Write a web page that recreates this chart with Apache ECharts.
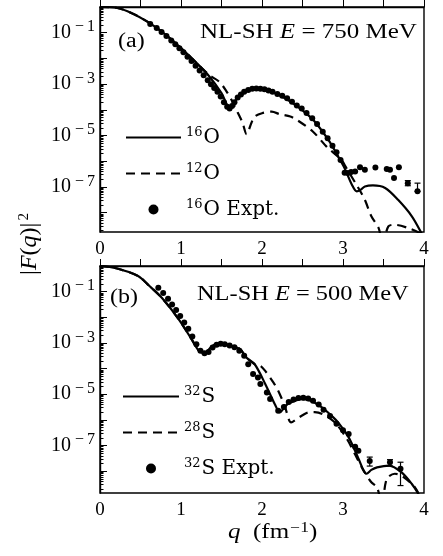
<!doctype html>
<html>
<head>
<meta charset="utf-8">
<title>Form factor</title>
<script src="https://cdn.jsdelivr.net/npm/echarts@6/dist/echarts.min.js"></script>
<style>
  html, body { margin: 0; padding: 0; background: #fff; }
  #main { width: 443px; height: 556px; }
</style>
</head>
<body>
<div id="main"></div>
<script>
// all curve values are log10 |F(q)|^2
// panel (a): 16O / 12O, E = 750 MeV
var qA16 = [0, 0.2, 0.4, 0.6, 0.8, 1.0, 1.2, 1.35, 1.5, 1.56, 1.6, 1.65, 1.72, 1.8, 1.9, 2.0, 2.16, 2.3, 2.41, 2.53, 2.65, 2.82, 2.94, 3.02, 3.11, 3.17, 3.22, 3.27, 3.37, 3.52, 3.68, 3.85, 3.97, 4.0];
var fA16 = [0, -0.03, -0.25, -0.6, -1.05, -1.6, -2.2, -2.7, -3.35, -3.75, -3.95, -3.75, -3.45, -3.27, -3.19, -3.2, -3.35, -3.58, -3.81, -4.1, -4.45, -5.17, -5.81, -6.27, -6.91, -7.17, -7.1, -6.98, -6.94, -7.04, -7.5, -8.14, -8.8, -9.0];
var qA12 = [0, 0.2, 0.4, 0.6, 0.8, 1.0, 1.2, 1.35, 1.47, 1.55, 1.63, 1.7, 1.76, 1.81, 1.87, 1.91, 2.0, 2.12, 2.22, 2.35, 2.43, 2.63, 2.8, 2.98, 3.03, 3.19, 3.27, 3.35, 3.44, 3.49, 3.56, 3.64, 3.81, 3.95, 4.0];
var fA12 = [0, -0.03, -0.25, -0.6, -1.05, -1.6, -2.2, -2.65, -2.9, -3.22, -3.65, -4.1, -4.5, -4.95, -4.5, -4.26, -4.13, -4.07, -4.17, -4.26, -4.39, -4.85, -5.44, -5.94, -6.2, -7.04, -7.5, -8.14, -8.6, -9.2, -8.53, -8.47, -8.6, -8.8, -9.0];
var qAexp = [0.62, 0.7, 0.76, 0.82, 0.88, 0.93, 0.98, 1.03, 1.08, 1.13, 1.18, 1.23, 1.28, 1.33, 1.37, 1.41, 1.45, 1.49, 1.53, 1.57, 1.6, 1.63, 1.66, 1.7, 1.74, 1.78, 1.83, 1.88, 1.93, 1.98, 2.03, 2.08, 2.13, 2.19, 2.25, 2.31, 2.37, 2.43, 2.49, 2.55, 2.62, 2.68, 2.75, 2.81, 2.87, 2.92, 2.97, 3.02, 3.06, 3.1, 3.15, 3.21, 3.27, 3.4, 3.54, 3.58, 3.63, 3.69, 3.8, 3.92];
var fAexp = [-0.66, -0.82, -0.97, -1.13, -1.3, -1.45, -1.6, -1.76, -1.93, -2.1, -2.28, -2.47, -2.65, -2.85, -3.0, -3.15, -3.3, -3.48, -3.7, -3.88, -3.95, -3.85, -3.7, -3.52, -3.4, -3.3, -3.23, -3.18, -3.17, -3.18, -3.2, -3.25, -3.3, -3.38, -3.45, -3.55, -3.68, -3.83, -3.95, -4.12, -4.33, -4.55, -4.85, -5.1, -5.4, -5.65, -5.95, -6.45, -6.46, -6.42, -6.4, -6.23, -6.33, -6.24, -6.3, -6.33, -6.65, -6.23, -6.85, -7.17];
var errA = [[3.8, -6.95, -6.75], [3.92, -7.17, -6.85]];

// panel (b): 32S / 28S, E = 500 MeV
var qB32 = [0, 0.2, 0.47, 0.6, 0.76, 0.97, 1.13, 1.22, 1.3, 1.36, 1.45, 1.55, 1.73, 1.8, 1.91, 2.04, 2.16, 2.22, 2.28, 2.33, 2.49, 2.6, 2.74, 2.88, 2.94, 3.07, 3.19, 3.25, 3.29, 3.35, 3.42, 3.57, 3.72, 3.85, 3.93, 3.96];
var fB32 = [0, -0.09, -0.39, -0.75, -1.23, -2.07, -2.85, -3.3, -3.38, -3.2, -3.03, -3.05, -3.24, -3.55, -3.83, -4.6, -5.4, -5.71, -5.5, -5.36, -5.19, -5.25, -5.51, -5.9, -6.1, -6.68, -7.5, -7.95, -8.1, -7.95, -7.85, -7.78, -8.04, -8.5, -8.88, -9.1];
var qB28 = [0, 0.2, 0.47, 0.6, 0.76, 0.97, 1.13, 1.22, 1.3, 1.36, 1.45, 1.55, 1.73, 1.8, 1.91, 1.98, 2.04, 2.14, 2.2, 2.28, 2.36, 2.43, 2.5, 2.57, 2.65, 2.75, 2.9, 3.05, 3.15, 3.25, 3.35, 3.42, 3.48, 3.54, 3.64, 3.72, 3.87, 3.93];
var fB28 = [0, -0.09, -0.39, -0.75, -1.23, -2.07, -2.85, -3.3, -3.38, -3.2, -3.03, -3.05, -3.24, -3.55, -3.83, -3.89, -4.09, -4.54, -4.86, -5.45, -6.1, -5.96, -5.82, -5.71, -5.7, -5.78, -6.1, -6.75, -7.35, -7.95, -8.43, -8.63, -9.3, -8.3, -8.1, -8.17, -8.56, -8.85];
var qBexp = [0.72, 0.78, 0.84, 0.89, 0.94, 0.99, 1.04, 1.09, 1.14, 1.19, 1.24, 1.29, 1.34, 1.39, 1.44, 1.49, 1.54, 1.6, 1.66, 1.72, 1.78, 1.83, 1.89, 1.95, 1.98, 2.06, 2.1, 2.2, 2.27, 2.33, 2.39, 2.45, 2.51, 2.57, 2.63, 2.7, 2.76, 2.84, 2.92, 3.0, 3.07, 3.15, 3.19, 3.33, 3.58, 3.71];
var fBexp = [-0.85, -1.05, -1.28, -1.5, -1.72, -1.95, -2.2, -2.45, -2.75, -3.05, -3.3, -3.4, -3.35, -3.18, -3.07, -3.03, -3.05, -3.1, -3.17, -3.3, -3.5, -3.83, -4.21, -4.35, -4.6, -4.93, -5.19, -5.64, -5.5, -5.3, -5.2, -5.15, -5.14, -5.17, -5.25, -5.4, -5.6, -5.85, -6.15, -6.4, -6.55, -7.05, -7.2, -7.6, -7.65, -7.9];
var errB = [[3.33, -7.8, -7.45], [3.58, -7.8, -7.55], [3.71, -8.56, -7.65]];

var xTickLabels = ['0', '1', '2', '3', '4'];
var yLabelExps = [-1, -3, -5, -7];
var yMajorTicks = [-1, -2, -3, -4, -5, -6, -7, -8];
var yMin = [-8.75, -8.85];

var serif = 'Liberation Serif';
var wide = 'DejaVu Serif';

function zip(q, f) {
  var out = [];
  for (var i = 0; i < q.length; i++) out.push([q[i], f[i]]);
  return out;
}

// log minor ticks (2..9 times each decade)
var yMinorTicks = [];
for (var n = -9; n < 0; n++) {
  for (var k = 2; k <= 9; k++) yMinorTicks.push(n + Math.log10(k));
}

var myChart = echarts.init(document.getElementById('main'));

var grids = [
  { left: 100, top: 7, width: 324, height: 225 },
  { left: 100, top: 266, width: 324, height: 227 }
];

var xAxes = [], yAxes = [];
grids.forEach(function (g, i) {
  g.show = true;
  g.borderColor = '#000';
  g.borderWidth = 1.4;
  xAxes.push({
    gridIndex: i, type: 'value', min: 0, max: 4, interval: 0.5,
    axisLine: { lineStyle: { color: '#000', width: 1.4 } },
    axisTick: { inside: true, length: 7, lineStyle: { color: '#000', width: 1 } },
    splitLine: { show: false },
    axisLabel: {
      color: '#000', fontFamily: serif, fontSize: 19, margin: 8,
      formatter: function (v) { return v % 1 === 0 ? xTickLabels[v] : ''; }
    }
  });
  yAxes.push({
    gridIndex: i, type: 'value', min: yMin[i], max: 0, position: 'left',
    axisLine: { lineStyle: { color: '#000', width: 1.4 } },
    axisTick: { inside: true, length: 7, customValues: yMajorTicks, lineStyle: { color: '#000', width: 1 } },
    splitLine: { show: false },
    axisLabel: {
      customValues: yLabelExps, margin: 5,
      formatter: function (v) { return '{b|10}{m|\u2212}{s|' + (-v) + '}'; },
      rich: {
        b: { fontFamily: serif, fontSize: 20, color: '#000' },
        m: { fontFamily: serif, fontSize: 16, color: '#000', padding: [0, 0, 11, 4] },
        s: { fontFamily: serif, fontSize: 16, color: '#000', padding: [0, 0, 11, 3] }
      }
    }
  });
  yAxes.push({
    gridIndex: i, type: 'value', min: yMin[i], max: 0, position: 'left',
    axisLine: { show: false },
    axisTick: { inside: true, length: 3.5, customValues: yMinorTicks, lineStyle: { color: '#000', width: 1 } },
    axisLabel: { show: false },
    splitLine: { show: false }
  });
});

var legendRich = {
  s: { fontFamily: wide, fontSize: 13, color: '#000', padding: [0, 1, 10, 0] },
  b: { fontFamily: wide, fontSize: 20, color: '#000' }
};

function isoName(name) {
  var m = name.match(/^(\d+)(\S+)(.*)$/);
  return '{s|' + m[1] + '}{b|' + m[2] + m[3] + '}';
}

function legendData(names) {
  return [
    { name: names[0], itemStyle: { opacity: 0 } },
    { name: names[1], itemStyle: { opacity: 0 } },
    { name: names[2] }
  ];
}

function errRender(params, api) {
  var p1 = api.coord([api.value(0), api.value(2)]);
  var p2 = api.coord([api.value(0), api.value(1)]);
  var st = { stroke: '#000', lineWidth: 1.2 };
  return {
    type: 'group',
    children: [
      { type: 'line', shape: { x1: p1[0], y1: p1[1], x2: p2[0], y2: p2[1] }, style: st },
      { type: 'line', shape: { x1: p1[0] - 3, y1: p1[1], x2: p1[0] + 3, y2: p1[1] }, style: st },
      { type: 'line', shape: { x1: p2[0] - 3, y1: p2[1], x2: p2[0] + 3, y2: p2[1] }, style: st }
    ]
  };
}

function panelSeries(i, names, solid, dashed, expt, err) {
  return [
    {
      name: names[0], type: 'line', xAxisIndex: i, yAxisIndex: 2 * i, data: solid,
      symbol: 'none', smooth: 0.3, lineStyle: { color: '#000', width: 2.2 }, itemStyle: { color: '#000' }
    },
    {
      name: names[1], type: 'line', xAxisIndex: i, yAxisIndex: 2 * i, data: dashed,
      symbol: 'none', smooth: 0.3, lineStyle: { color: '#000', width: 2.2, type: [9, 6] }, itemStyle: { color: '#000' }
    },
    {
      name: names[2], type: 'scatter', xAxisIndex: i, yAxisIndex: 2 * i, data: expt,
      symbolSize: 6, itemStyle: { color: '#000', opacity: 1 }
    },
    {
      type: 'custom', xAxisIndex: i, yAxisIndex: 2 * i, data: err,
      encode: { x: 0, y: [1, 2] }, renderItem: errRender
    }
  ];
}

var namesA = ['16O', '12O', '16O Expt.'];
var namesB = ['32S', '28S', '32S Expt.'];

var annRich = {
  a: { fontFamily: serif, fontSize: 20, fill: '#000' },
  i: { fontFamily: serif, fontSize: 20, fontStyle: 'italic', fill: '#000' },
  s: { fontFamily: serif, fontSize: 14, fill: '#000', padding: [0, 0, 10, 1] }
};

option = {
  animation: false,
  backgroundColor: '#fff',
  grid: grids,
  xAxis: xAxes,
  yAxis: yAxes,
  legend: [
    {
      data: legendData(namesA), orient: 'vertical', left: 120, top: 121,
      itemWidth: 55, itemHeight: 10, itemGap: 14.5,
      formatter: isoName, textStyle: { rich: legendRich }
    },
    {
      data: legendData(namesB), orient: 'vertical', left: 117, top: 380,
      itemWidth: 56, itemHeight: 10, itemGap: 14.5,
      formatter: isoName, textStyle: { rich: legendRich }
    }
  ],
  graphic: [
    {
      type: 'text', x: 200, y: 33, scaleX: 1.25,
      style: { text: '{a|NL-SH }{i|E}{a| = 750 MeV}', rich: annRich, verticalAlign: 'middle' }
    },
    {
      type: 'text', x: 118, y: 42, scaleX: 1.2,
      style: { text: '(a)', font: '20px "Liberation Serif"', fill: '#000', verticalAlign: 'middle' }
    },
    {
      type: 'text', x: 197, y: 295, scaleX: 1.22,
      style: { text: '{a|NL-SH }{i|E}{a| = 500 MeV}', rich: annRich, verticalAlign: 'middle' }
    },
    {
      type: 'text', x: 110, y: 298, scaleX: 1.2,
      style: { text: '(b)', font: '20px "Liberation Serif"', fill: '#000', verticalAlign: 'middle' }
    },
    {
      type: 'text', x: 30, y: 244, rotation: Math.PI / 2,
      style: {
        text: '{a||}{i|F}{a|(}{i|q}{a|)|}{s|2}', align: 'center', verticalAlign: 'middle',
        rich: {
          a: { fontFamily: serif, fontSize: 24, fill: '#000' },
          i: { fontFamily: serif, fontSize: 24, fontStyle: 'italic', fill: '#000' },
          s: { fontFamily: serif, fontSize: 15, fill: '#000', padding: [0, 0, 12, 2] }
        }
      }
    },
    {
      type: 'text', x: 228, y: 533, scaleX: 1.25,
      style: { text: '{i|q}{a|  (fm}{s|\u22121}{a|)}', rich: annRich, verticalAlign: 'middle' }
    }
  ],
  series: [].concat(
    panelSeries(0, namesA, zip(qA16, fA16), zip(qA12, fA12), zip(qAexp, fAexp), errA),
    panelSeries(1, namesB, zip(qB32, fB32), zip(qB28, fB28), zip(qBexp, fBexp), errB)
  )
};

myChart.setOption(option);
</script>
</body>
</html>
